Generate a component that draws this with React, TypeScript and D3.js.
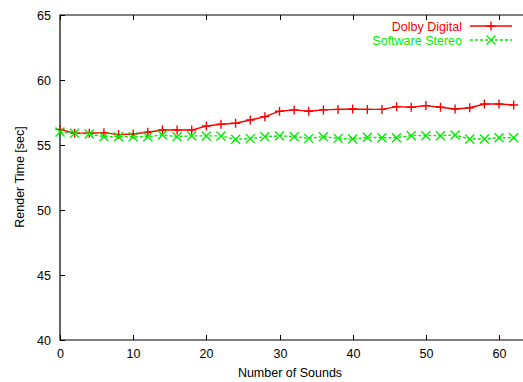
import { useEffect, useRef } from 'react';
import * as d3 from 'd3';

const sounds = [0, 2, 4, 6, 8, 10, 12, 14, 16, 18, 20, 22, 24, 26, 28, 30, 32, 34, 36, 38, 40, 42, 44, 46, 48, 50, 52, 54, 56, 58, 60, 62];
const dolbyDigital = [56.2, 55.9, 55.9, 55.95, 55.8, 55.85, 55.98, 56.15, 56.15, 56.15, 56.46, 56.6, 56.67, 56.92, 57.18, 57.6, 57.7, 57.6, 57.7, 57.74, 57.77, 57.74, 57.74, 57.95, 57.9, 58.03, 57.9, 57.77, 57.87, 58.15, 58.15, 58.08];
const softwareStereo = [56.0, 55.9, 55.85, 55.64, 55.64, 55.64, 55.64, 55.77, 55.64, 55.7, 55.7, 55.7, 55.44, 55.49, 55.64, 55.7, 55.64, 55.51, 55.64, 55.51, 55.46, 55.59, 55.56, 55.56, 55.72, 55.72, 55.72, 55.77, 55.46, 55.46, 55.56, 55.56];
const xTicks = [0, 10, 20, 30, 40, 50, 60];
const yTicks = [40, 45, 50, 55, 60, 65];

const FONT = 'Liberation Sans, Arial, Helvetica, sans-serif';

export default function App() {
    const svgRef = useRef<SVGSVGElement>(null);

    useEffect(() => {
        if (!svgRef.current) return;
        const svg = d3.select(svgRef.current);
        svg.selectAll('*').remove();

        const left = 60, top = 15, bottom = 340;
        const x = d3.scaleLinear().domain([0, 64]).range([left, left + 64 * 7.317]);
        const y = d3.scaleLinear().domain([40, 65]).range([bottom, top]);
        const right = x(64);

        // frame
        svg.append('path')
            .attr('d', `M${right},${top}H${left}V${bottom}H${right}`)
            .attr('fill', 'none')
            .attr('stroke', '#000')
            .attr('stroke-width', 1.2);

        // y ticks + labels
        yTicks.forEach(t => {
            const yy = Math.round(y(t)) + 0.5;
            svg.append('line').attr('x1', left).attr('x2', left + 5).attr('y1', yy).attr('y2', yy).attr('stroke', '#000');
            svg.append('text')
                .attr('x', 51).attr('y', yy + 4.5)
                .attr('text-anchor', 'end')
                .attr('font-family', FONT).attr('font-size', 12.5)
                .text(t);
        });

        // x ticks + labels (mirrored on top)
        xTicks.forEach(t => {
            const xx = Math.round(x(t)) + 0.5;
            svg.append('line').attr('x1', xx).attr('x2', xx).attr('y1', bottom).attr('y2', bottom - 5).attr('stroke', '#000');
            svg.append('line').attr('x1', xx).attr('x2', xx).attr('y1', top).attr('y2', top + 5).attr('stroke', '#000');
            svg.append('text')
                .attr('x', xx).attr('y', 358)
                .attr('text-anchor', 'middle')
                .attr('font-family', FONT).attr('font-size', 12.5)
                .text(t);
        });

        // axis titles
        svg.append('text')
            .attr('x', 290).attr('y', 377)
            .attr('text-anchor', 'middle')
            .attr('font-family', FONT).attr('font-size', 12.5)
            .text('Number of Sounds');
        svg.append('text')
            .attr('transform', 'translate(24,177) rotate(-90)')
            .attr('text-anchor', 'middle')
            .attr('font-family', FONT).attr('font-size', 12.5)
            .text('Render Time [sec]');

        const series = [
            { name: 'Dolby Digital', values: dolbyDigital, color: '#ff0000', dash: null, marker: 'plus', ly: 26 },
            { name: 'Software Stereo', values: softwareStereo, color: '#00ee00', dash: '3,2', marker: 'cross', ly: 40 },
        ];

        const markerPath = (kind: string, cx: number, cy: number) => {
            const s = 4.5;
            return kind === 'plus'
                ? `M${cx - s},${cy}H${cx + s}M${cx},${cy - s}V${cy + s}`
                : `M${cx - s},${cy - s}L${cx + s},${cy + s}M${cx - s},${cy + s}L${cx + s},${cy - s}`;
        };

        series.forEach(s => {
            const line = d3.line<number>()
                .x((_, i) => x(sounds[i]))
                .y(d => y(d));
            svg.append('path')
                .attr('d', line(s.values))
                .attr('fill', 'none')
                .attr('stroke', s.color)
                .attr('stroke-width', 1.4)
                .attr('stroke-dasharray', s.dash);
            svg.append('path')
                .attr('d', s.values.map((v, i) => markerPath(s.marker, x(sounds[i]), y(v))).join(''))
                .attr('fill', 'none')
                .attr('stroke', s.color)
                .attr('stroke-width', 1.4);

            // legend
            svg.append('text')
                .attr('x', 462).attr('y', s.ly + 4.5)
                .attr('text-anchor', 'end')
                .attr('font-family', FONT).attr('font-size', 12.5)
                .attr('fill', s.color)
                .text(s.name);
            svg.append('line')
                .attr('x1', 470).attr('x2', 512).attr('y1', s.ly).attr('y2', s.ly)
                .attr('stroke', s.color).attr('stroke-width', 1.4)
                .attr('stroke-dasharray', s.dash);
            svg.append('path')
                .attr('d', markerPath(s.marker, 491, s.ly))
                .attr('fill', 'none')
                .attr('stroke', s.color).attr('stroke-width', 1.4);
        });
    }, []);

    return (
        <svg ref={svgRef} width={523} height={382}
            style={{ position: 'absolute', left: 0, top: 0, background: '#fff' }} />
    );
}
